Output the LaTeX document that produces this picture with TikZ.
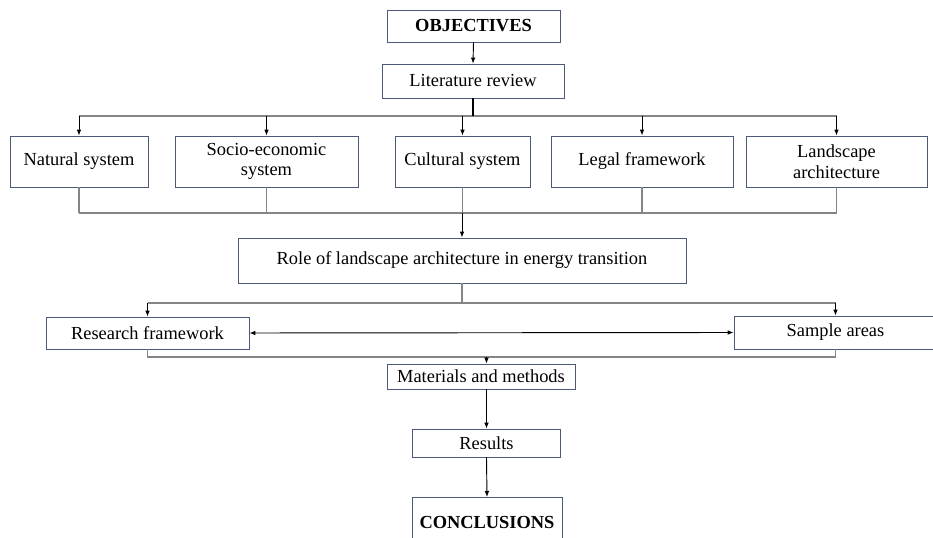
\documentclass[tikz,border=0pt]{standalone}
\usepackage{fontspec}
\setmainfont{Liberation Serif}
\usetikzlibrary{arrows.meta}
\definecolor{boxline}{HTML}{4A5A78}
\definecolor{busline}{HTML}{858585}
\tikzset{
  box/.style={draw=boxline,line width=0.6pt,rectangle,align=center,inner sep=2pt,
    font=\fontsize{13.8}{15.5}\selectfont},
  arr/.style={draw=black,line width=0.7pt,-{Latex[length=4.5pt,width=3.5pt]}},
  bus/.style={draw=busline,line width=0.9pt}
}
\begin{document}
\begin{tikzpicture}[x=0.75pt,y=-0.75pt]
  \useasboundingbox (0,0) rectangle (933,538);
  \clip (0,0) rectangle (933,538);
  \node[box,minimum width=173*0.75pt,minimum height=32*0.75pt] (obj) at (473.5,26) {\textbf{OBJECTIVES}};
  \node[box,minimum width=182*0.75pt,minimum height=34*0.75pt] (lit) at (473,81) {Literature review};
  \node[box,minimum width=138*0.75pt,minimum height=51*0.75pt] (nat) at (79,161.5) {Natural system};
  \node[box,minimum width=183*0.75pt,minimum height=51*0.75pt] (soc) at (266.5,161.5) {Socio-economic\\system};
  \node[box,minimum width=135*0.75pt,minimum height=51*0.75pt] (cul) at (462.5,161.5) {Cultural system};
  \node[box,minimum width=182*0.75pt,minimum height=51*0.75pt] (leg) at (642,161.5) {Legal framework};
  \node[box,minimum width=181*0.75pt,minimum height=51*0.75pt] (land) at (836.5,161.5) {Landscape\\architecture};
  \node[box,minimum width=448*0.75pt,minimum height=45*0.75pt] (role) at (462,260.5) {Role of landscape architecture in energy transition};
  \node[box,minimum width=203*0.75pt,minimum height=32*0.75pt] (res) at (147.5,333) {Research framework};
  \node[box,minimum width=203*0.75pt,minimum height=33*0.75pt] (samp) at (835.5,332.5) {Sample areas};
  \node[box,minimum width=188*0.75pt,minimum height=25*0.75pt] (mat) at (481,376.5) {Materials and methods};
  \node[box,minimum width=148*0.75pt,minimum height=28*0.75pt] (out) at (486.5,443) {Results};
  \node[box,minimum width=150*0.75pt,minimum height=50*0.75pt,anchor=north] (conc) at (487,497) {\textbf{CONCLUSIONS}};
  % buses
  \coordinate (topbus) at (0,116);
  \coordinate (botbus) at (0,213);
  \coordinate (midbus) at (0,303);
  \coordinate (lowbus) at (0,357);
  \draw[arr] (obj.south) -- (lit.north);
  \draw[bus] (nat.north |- topbus) -- (land.north |- topbus);
  \draw[line width=0.9pt] (lit.south) -- (lit.south |- topbus);
  \foreach \n in {nat,soc,cul,leg,land}
    \draw[arr] (\n.north |- topbus) -- (\n.north);
  \foreach \n in {nat,soc,cul,leg,land}
    \draw[bus] (\n.south) -- (\n.south |- botbus);
  \draw[bus] (nat.south |- botbus) -- (land.south |- botbus);
  \draw[arr] (role.north |- botbus) -- (role.north);
  \draw[bus] (role.south) -- (role.south |- midbus);
  \draw[bus] (res.north |- midbus) -- (samp.north |- midbus);
  \draw[arr] (res.north |- midbus) -- (res.north);
  \draw[arr] (samp.north |- midbus) -- (samp.north);
  \draw[arr,{Latex[length=4.5pt,width=3.5pt]}-{Latex[length=4.5pt,width=3.5pt]}] (res.east) -- (samp.west);
  \draw[bus] (res.south) -- (res.south |- lowbus) -- (samp.south |- lowbus) -- (samp.south);
  \draw[arr] (out.north |- lowbus) -- (out.north |- mat.north);
  \draw[arr] (out.north |- mat.south) -- (out.north);
  \draw[arr] (out.south) -- (conc.north);
\end{tikzpicture}
\end{document}
